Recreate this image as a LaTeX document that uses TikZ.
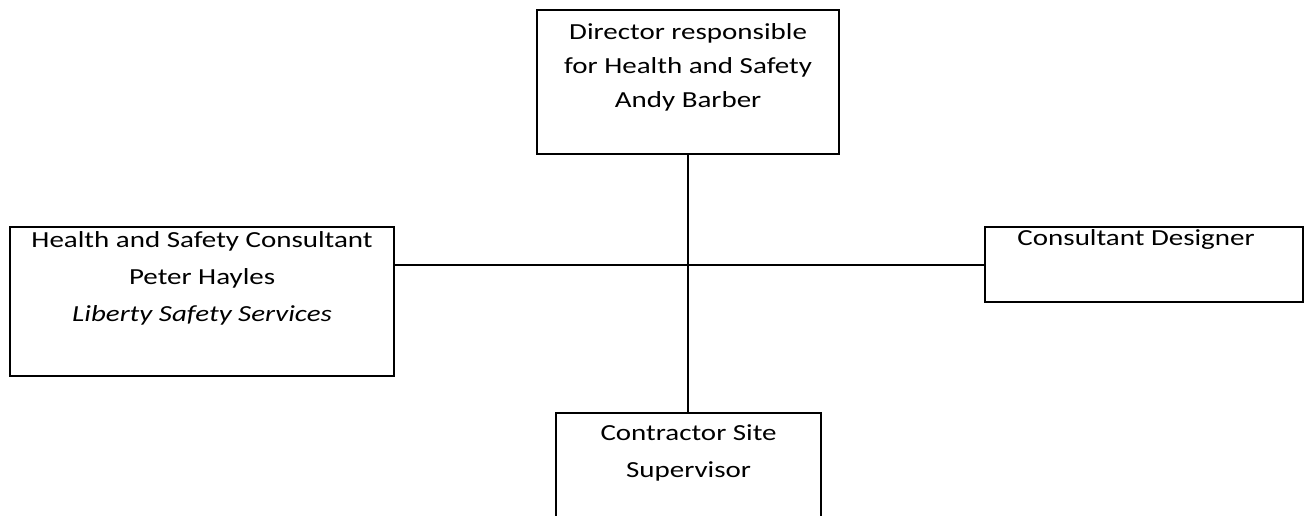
\documentclass[tikz,border=0pt]{standalone}
\usepackage{fontspec}
\setmainfont{Carlito}[FakeStretch=1.26]
\begin{document}
\begin{tikzpicture}[x=1pt, y=-1pt, line width=2.2pt,
        box/.style={draw, rectangle, inner sep=0pt, anchor=north west},
        txt/.style={anchor=base, align=center, inner sep=0pt, font=\fontsize{23pt}{#1pt}\selectfont},
        txt/.default=37]
                \useasboundingbox (0, 0) rectangle (1310, 515);
                \clip (0, 0) rectangle (1310, 515);
                \node[box, minimum width=302pt, minimum height=144pt] (dir) at (536, 9) {};
                \node[box, minimum width=384pt, minimum height=149pt] (hsc) at (9, 226) {};
                \node[box, minimum width=318pt, minimum height=75pt] (cd) at (984, 226) {};
                \node[box, minimum width=265pt, minimum height=140pt] (css) at (555, 412) {};
                \node[txt=34] (dirtxt) at ([yshift=-98pt]dir.north) {Director responsible\\for Health and Safety\\Andy Barber};
                \node[txt] (hsctxt) at ([yshift=-95pt]hsc.north) {Health and Safety Consultant\\Peter Hayles\\\textit{Liberty Safety Services}};
                \node[txt] (cdtxt) at ([xshift=-8pt, yshift=-19pt]cd.north) {Consultant Designer};
                \node[txt] (csstxt) at ([yshift=-65pt]css.north) {Contractor Site\\Supervisor};
                \draw (dir.south) -- (dir.south |- css.north);
                \draw (hsc.east |- cd.west) -- (cd.west);
            \end{tikzpicture}
\end{document}
